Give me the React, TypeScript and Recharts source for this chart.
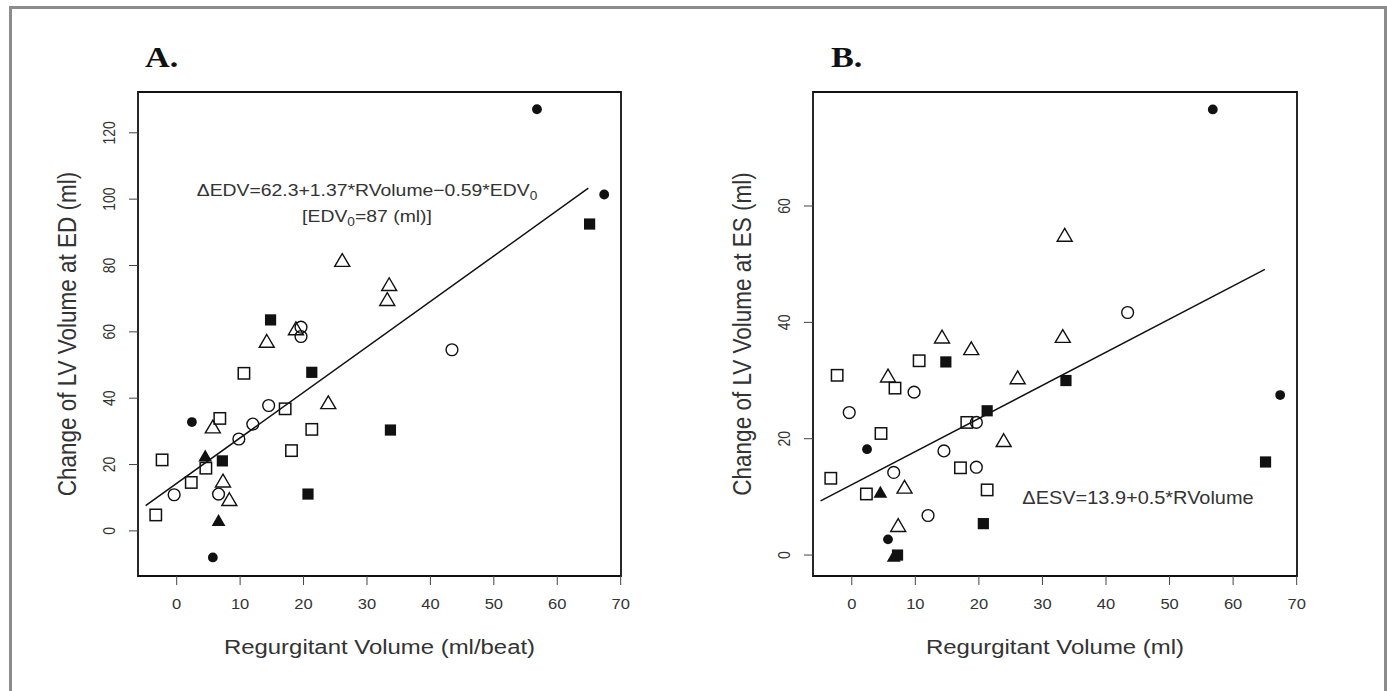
import { ReferenceArea, ReferenceLine, Scatter, ScatterChart, XAxis, YAxis } from "recharts";

// one entry per patient, same order in every array
const regVolume = [
  56.8, 67.4, 65.1, 2.4, 5.7, 14.8, 21.3, 33.7, 20.7, 7.2, 4.5, 6.6, 26.1, 33.5, 33.2, 18.8, 14.2, 23.9, 5.7,
  7.3, 8.3, 19.6, 19.6, 43.4, 14.5, 12.0, 9.8, -0.4, 6.6, 10.6, 6.8, 17.1, 21.3, 18.1, -2.3, 2.3, 4.6, -3.3,
];
const changeEDV = [
  127.1, 101.4, 92.5, 32.8, -8.0, 63.6, 47.8, 30.4, 11.1, 21.1, 22.4, 3.0, 81.4, 74.1, 69.6, 60.8, 57.0, 38.5,
  31.2, 14.9, 9.3, 61.4, 58.6, 54.6, 37.8, 32.2, 27.7, 10.9, 11.1, 47.5, 33.9, 36.8, 30.6, 24.2, 21.4, 14.6, 18.9, 4.8,
];
const changeESV = [
  76.6, 27.5, 16.0, 18.2, 2.7, 33.2, 24.8, 30.0, 5.4, 0.0, 10.7, -0.3, 30.4, 54.9, 37.5, 35.4, 37.4, 19.6, 30.7,
  5.0, 11.6, 22.8, 15.1, 41.7, 17.9, 6.8, 28.0, 24.5, 14.2, 33.4, 28.7, 15.0, 11.2, 22.8, 30.9, 10.5, 20.9, 13.2,
];
const marker = [
  "dot", "dot", "block", "dot", "dot", "block", "block", "block", "block", "block", "wedge", "wedge",
  "tri", "tri", "tri", "tri", "tri", "tri", "tri", "tri", "tri",
  "ring", "ring", "ring", "ring", "ring", "ring", "ring", "ring",
  "box", "box", "box", "box", "box", "box", "box", "box", "box",
];
const markerKinds = ["box", "ring", "tri", "block", "wedge", "dot"];

const xTicks = [0, 10, 20, 30, 40, 50, 60, 70];
const edvTicks = [0, 20, 40, 60, 80, 100, 120];
const esvTicks = [0, 20, 40, 60];

const xDomain: [number, number] = [-6.1, 70.05];
const edvDomain: [number, number] = [-13.6, 132.3];
const esvDomain: [number, number] = [-3.6, 79.6];

// fitted lines, ends
const edvFitX = [-4.9, 64.9];
const edvFitY = [7.6, 103.3];
const esvFitX = [-4.9, 65.0];
const esvFitY = [9.3, 49.1];

const SANS = '"Liberation Sans", Arial, sans-serif';
const SERIF = '"Liberation Serif", "Times New Roman", serif';
const STRETCH = 1.14;
const INK = "#111";
const TEXT = "#333";

const CHART_H = 691;
const PLOT_TOP = 92;
const PLOT_BOTTOM = 576;

function Marker({ cx, cy, kind }: { cx?: number; cy?: number; kind: string }) {
  if (cx == null || cy == null) return null;
  switch (kind) {
    case "dot":
      return <circle cx={cx} cy={cy} r={4.9} fill={INK} />;
    case "ring":
      return <circle cx={cx} cy={cy} r={5.9} fill="none" stroke={INK} strokeWidth={1.4} />;
    case "box":
      return <rect x={cx - 5.7} y={cy - 5.7} width={11.4} height={11.4} fill="none" stroke={INK} strokeWidth={1.5} />;
    case "block":
      return <rect x={cx - 5.6} y={cy - 5.6} width={11.2} height={11.2} fill={INK} />;
    case "tri":
      return (
        <polygon
          points={`${cx},${cy - 7.3} ${cx + 7.5},${cy + 5.5} ${cx - 7.5},${cy + 5.5}`}
          fill="none"
          stroke={INK}
          strokeWidth={1.4}
        />
      );
    case "wedge":
      return <polygon points={`${cx},${cy - 7} ${cx + 6.9},${cy + 5} ${cx - 6.9},${cy + 5}`} fill={INK} />;
    default:
      return null;
  }
}

function XTick({ x, y, payload }: any) {
  return (
    <text
      transform={`translate(${x} ${y}) scale(${STRETCH} 1)`}
      textAnchor="middle"
      dy="0.71em"
      fontSize={14.5}
      fontFamily={SANS}
      fill={TEXT}
    >
      {payload.value}
    </text>
  );
}

function YTick({ x, y, payload }: any) {
  return (
    <text
      transform={`translate(${x} ${y}) scale(${STRETCH} 1) rotate(-90)`}
      textAnchor="middle"
      fontSize={14}
      fontFamily={SANS}
      fill={TEXT}
    >
      {payload.value}
    </text>
  );
}

type PanelProps = {
  left: number;
  width: number;
  axisWidth: number;
  marginRight: number;
  yValues: number[];
  yDomain: [number, number];
  yTicks: number[];
  fitX: number[];
  fitY: number[];
  xTitle: string;
  yTitle: string;
};

function Panel({ left, width, axisWidth, marginRight, yValues, yDomain, yTicks, fitX, fitY, xTitle, yTitle }: PanelProps) {
  const plotMid = axisWidth + (width - marginRight - axisWidth) / 2;
  const midY = (PLOT_TOP + PLOT_BOTTOM) / 2;
  const points = regVolume.map((x, i) => ({ x, y: yValues[i], kind: marker[i] }));

  return (
    <div style={{ position: "absolute", left, top: 0, width, height: CHART_H }}>
      <ScatterChart width={width} height={CHART_H} margin={{ top: PLOT_TOP, right: marginRight, bottom: 0, left: 0 }}>
        <XAxis
          type="number"
          dataKey="x"
          domain={xDomain}
          ticks={xTicks}
          allowDataOverflow
          axisLine={false}
          tickSize={9}
          tickMargin={14}
          tickLine={{ stroke: "#444" }}
          tick={<XTick />}
          height={CHART_H - PLOT_BOTTOM}
          label={() => (
            <text
              transform={`translate(${plotMid} ${PLOT_BOTTOM + 78}) scale(${STRETCH} 1)`}
              textAnchor="middle"
              fontSize={21}
              fontFamily={SANS}
              fill={TEXT}
            >
              {xTitle}
            </text>
          )}
        />
        <YAxis
          type="number"
          dataKey="y"
          domain={yDomain}
          ticks={yTicks}
          allowDataOverflow
          axisLine={false}
          tickSize={9}
          tickMargin={14}
          tickLine={{ stroke: "#444" }}
          tick={<YTick />}
          width={axisWidth}
          label={() => (
            <text
              transform={`translate(${axisWidth - 62} ${midY}) scale(${STRETCH} 1) rotate(-90)`}
              textAnchor="middle"
              fontSize={22.5}
              fontFamily={SANS}
              fill={TEXT}
            >
              {yTitle}
            </text>
          )}
        />
        <ReferenceArea
          x1={xDomain[0]}
          x2={xDomain[1]}
          y1={yDomain[0]}
          y2={yDomain[1]}
          fill="none"
          fillOpacity={0}
          stroke={INK}
          strokeWidth={1.8}
          ifOverflow="visible"
        />
        <ReferenceLine
          segment={[
            { x: fitX[0], y: fitY[0] },
            { x: fitX[1], y: fitY[1] },
          ]}
          stroke={INK}
          strokeWidth={1.5}
          ifOverflow="visible"
        />
        {markerKinds.map((kind) => (
          <Scatter
            key={kind}
            data={points.filter((p) => p.kind === kind)}
            isAnimationActive={false}
            shape={(props: any) => <Marker cx={props.cx} cy={props.cy} kind={kind} />}
          />
        ))}
      </ScatterChart>
    </div>
  );
}

export default function App() {
  return (
    <div
      style={{
        position: "absolute",
        left: 0,
        top: 0,
        width: 1387,
        height: 691,
        overflow: "hidden",
        background: "#fff",
      }}
    >
      <div
        style={{
          position: "absolute",
          left: 9,
          top: 6,
          width: 1378,
          height: 720,
          boxSizing: "border-box",
          border: "3px solid #8c8c8c",
          borderBottom: "none",
        }}
      />
      <Panel
        left={0}
        width={690}
        axisWidth={138}
        marginRight={69}
        yValues={changeEDV}
        yDomain={edvDomain}
        yTicks={edvTicks}
        fitX={edvFitX}
        fitY={edvFitY}
        xTitle="Regurgitant Volume (ml/beat)"
        yTitle="Change of LV Volume at ED (ml)"
      />
      <Panel
        left={690}
        width={697}
        axisWidth={123}
        marginRight={90}
        yValues={changeESV}
        yDomain={esvDomain}
        yTicks={esvTicks}
        fitX={esvFitX}
        fitY={esvFitY}
        xTitle="Regurgitant Volume (ml)"
        yTitle="Change of LV Volume at ES (ml)"
      />
      <svg
        width={1387}
        height={691}
        style={{ position: "absolute", left: 0, top: 0, pointerEvents: "none" }}
      >
        <text transform={`translate(145 67) scale(${STRETCH} 1)`} fontSize={30} fontWeight="bold" fontFamily={SERIF} fill={INK}>
          A.
        </text>
        <text transform={`translate(831 67) scale(${STRETCH} 1)`} fontSize={30} fontWeight="bold" fontFamily={SERIF} fill={INK}>
          B.
        </text>
        <text
          transform={`translate(367 196) scale(${STRETCH} 1)`}
          textAnchor="middle"
          fontSize={17}
          fontFamily={SANS}
          fill={TEXT}
        >
          ΔEDV=62.3+1.37*RVolume−0.59*EDV
          <tspan fontSize={12} dy={4}>0</tspan>
        </text>
        <text
          transform={`translate(367 222) scale(${STRETCH} 1)`}
          textAnchor="middle"
          fontSize={17}
          fontFamily={SANS}
          fill={TEXT}
        >
          [EDV
          <tspan fontSize={12} dy={4}>0</tspan>
          <tspan dy={-4}>=87 (ml)]</tspan>
        </text>
        <text
          transform={`translate(1138 504) scale(${STRETCH} 1)`}
          textAnchor="middle"
          fontSize={17.5}
          fontFamily={SANS}
          fill={TEXT}
        >
          ΔESV=13.9+0.5*RVolume
        </text>
      </svg>
    </div>
  );
}
